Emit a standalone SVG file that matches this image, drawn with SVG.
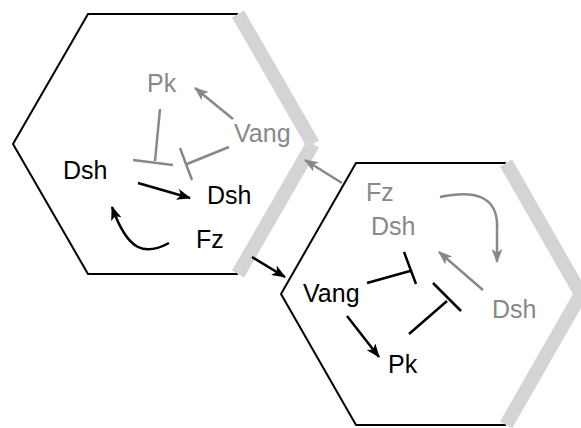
<svg xmlns="http://www.w3.org/2000/svg" width="581" height="428" viewBox="0 0 581 428">
<style>
.hex{fill:none;stroke:#000;stroke-width:2}
.band{fill:none;stroke:#d4d4d4;stroke-width:14;stroke-linecap:butt}
.t{font-family:"Liberation Sans",Arial,sans-serif;font-size:25px}
.k{fill:#000}
.g{fill:#888}
.ck{fill:none;stroke:#000;stroke-width:2.5}
.cg{fill:none;stroke:#888;stroke-width:2.5}
</style>
<defs>
<marker id="ak" markerUnits="userSpaceOnUse" markerWidth="14" markerHeight="11" refX="13" refY="5.5" orient="auto"><path d="M0,0 L14,5.5 L0,11 L3.5,5.5 z" fill="#000"/></marker>
<marker id="ag" markerUnits="userSpaceOnUse" markerWidth="14" markerHeight="11" refX="13" refY="5.5" orient="auto"><path d="M0,0 L14,5.5 L0,11 L3.5,5.5 z" fill="#888"/></marker>
</defs>
<rect width="581" height="428" fill="#fff"/>
<g id="cell-left">
<polyline class="hex" points="238,14 88,14 13,144 88,274 238,274"/>
<line class="band" x1="238" y1="14" x2="313" y2="144"/>
<line class="band" x1="313" y1="144" x2="238" y2="274"/>
</g>
<g id="cell-right">
<polyline class="hex" points="506,163 356,163 281,294 356,425 506,425"/>
<line class="band" x1="506" y1="163" x2="581" y2="294"/>
<line class="band" x1="581" y1="294" x2="506" y2="425"/>
</g>
<g id="connectors">
<path class="cg" d="M233,119 L195,88" marker-end="url(#ag)"/>
<path class="cg" d="M160,109 L155,161 M133,160 L173,165"/>
<path class="cg" d="M229,147 L187,164 M180,148 L192,180"/>
<path class="ck" d="M138,183 L190,198" marker-end="url(#ak)"/>
<path class="ck" d="M169,243 C145,256 128,252 112,207" marker-end="url(#ak)"/>
<path class="cg" d="M342,183 L305,160" marker-end="url(#ag)"/>
<path class="ck" d="M252,257 L285,277" marker-end="url(#ak)"/>
<path class="cg" d="M440,197 C478,189 499,198 497,230 L497,262" marker-end="url(#ag)"/>
<path class="cg" d="M483,290 L439,252" marker-end="url(#ag)"/>
<path class="ck" d="M367,283 L410,271 M404,252 L416,284"/>
<path class="ck" d="M409,334 L447,301 M433,283 L461,311"/>
<path class="ck" d="M347,316 L379,357" marker-end="url(#ak)"/>
</g>
<g id="n-pk-l"><text class="t g" x="147" y="92">Pk</text></g>
<g id="n-vang-l"><text class="t g" x="234" y="142">Vang</text></g>
<g id="n-dsh-l1"><text class="t k" x="63" y="179">Dsh</text></g>
<g id="n-dsh-l2"><text class="t k" x="207" y="204">Dsh</text></g>
<g id="n-fz-l"><text class="t k" x="196" y="248">Fz</text></g>
<g id="n-fz-r"><text class="t g" x="366" y="201">Fz</text></g>
<g id="n-dsh-r1"><text class="t g" x="371" y="235">Dsh</text></g>
<g id="n-vang-r"><text class="t k" x="303" y="302">Vang</text></g>
<g id="n-pk-r"><text class="t k" x="388" y="373">Pk</text></g>
<g id="n-dsh-r2"><text class="t g" x="492" y="318">Dsh</text></g>
</svg>
